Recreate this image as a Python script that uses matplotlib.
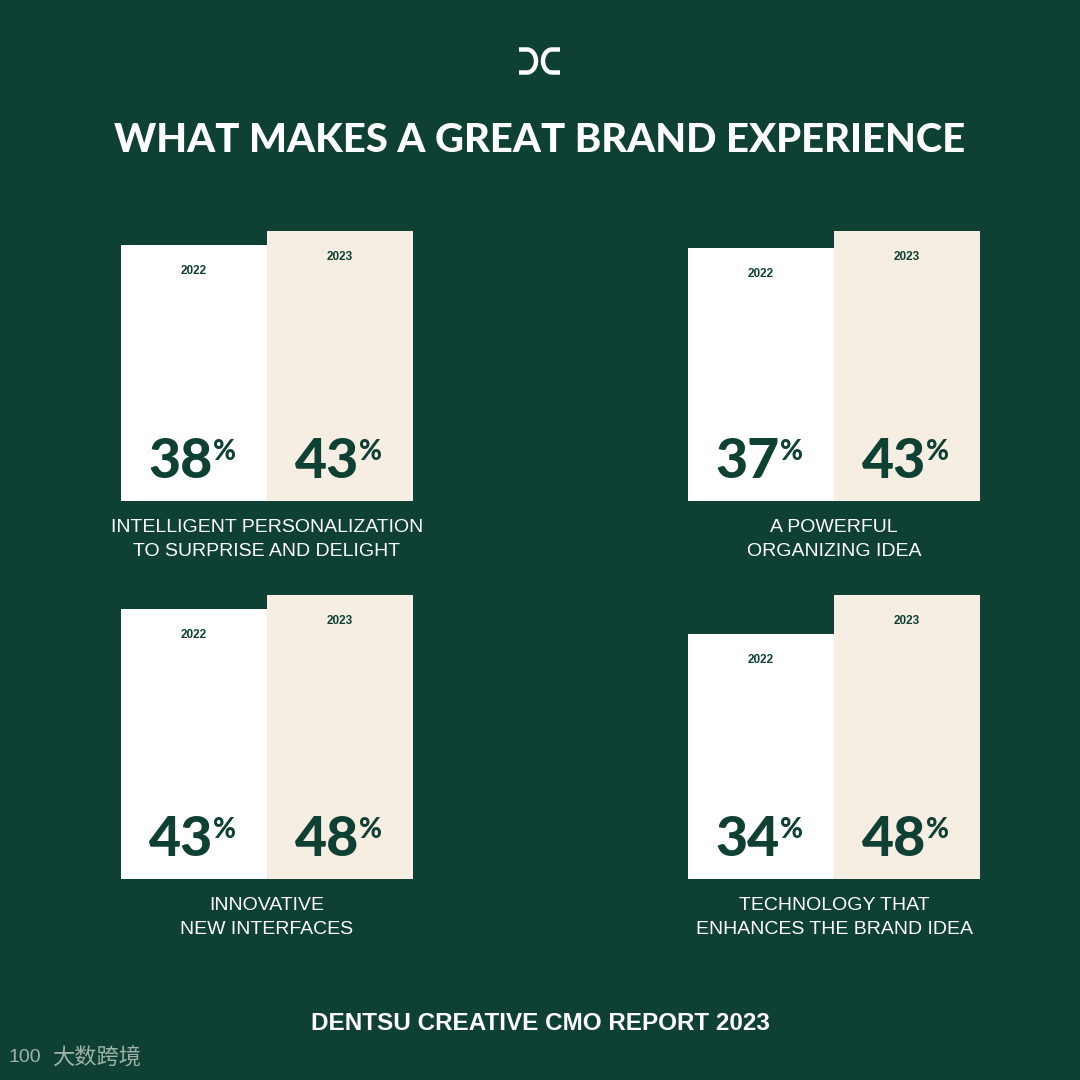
import numpy as np
import matplotlib.pyplot as plt
from matplotlib.lines import Line2D

# data
years = ['2022', '2023']
categories = ['INTELLIGENT PERSONALIZATION\nTO SURPRISE AND DELIGHT',
              'A POWERFUL\nORGANIZING IDEA',
              'INNOVATIVE\nNEW INTERFACES',
              'TECHNOLOGY THAT\nENHANCES THE BRAND IDEA']
share_2022 = [38, 37, 43, 34]
share_2023 = [43, 43, 48, 48]

BG = '#0f4034'
CREAM = '#f6eee2'
W = 1080.0

plt.rcParams['font.family'] = ['Lato', 'DejaVu Sans']
ARIAL = ['Liberation Sans', 'DejaVu Sans']

fig = plt.figure(figsize=(10.8, 10.8), dpi=100, facecolor=BG)

def fx(x):
    return x / W

def fy(y):
    return 1 - y / W

# panel anchors in pixels (left, bottom)
anchors = [(121, 501), (688, 501), (121, 879), (688, 879)]
base = -53.4       # value at the bar bottom
px_per_unit = 2.8
ax_h = 300

for k, (L, B) in enumerate(anchors):
    ax = fig.add_axes([fx(L), fy(B), 292 / W, ax_h / W])
    ax.set_facecolor('none')
    ax.set_xlim(-0.5, 1.5)
    ax.set_ylim(base, base + ax_h / px_per_unit)
    ax.axis('off')
    vals = [share_2022[k], share_2023[k]]
    ax.bar([0, 1], [v - base for v in vals], bottom=base, width=1.0,
           color=['white', CREAM], linewidth=0)
    for i, v in enumerate(vals):
        ax.annotate(years[i], xy=(i, v), xytext=(0, -26), textcoords='offset pixels',
                    ha='center', va='center', fontsize=8.5, fontweight='bold', color=BG,
                    family=ARIAL)
        ax.annotate(str(v), xy=(i, base), xytext=(19, 23), textcoords='offset pixels',
                    ha='right', va='baseline', fontsize=40, fontweight='black', color=BG)
        ax.annotate('%', xy=(i, base), xytext=(19, 62), textcoords='offset pixels',
                    ha='left', va='top', fontsize=20, fontweight='black', color=BG)
    ax.annotate(categories[k], xy=(0.5, base), xytext=(0, -18), textcoords='offset pixels',
                ha='center', va='top', fontsize=14, color='white', linespacing=1.55,
                family=ARIAL, annotation_clip=False)

# title and footer
fig.text(0.5, fy(140), 'WHAT MAKES A GREAT BRAND EXPERIENCE', ha='center', va='center',
         fontsize=28.8, fontweight='black', color='white')
fig.text(0.5, fy(1024), 'DENTSU CREATIVE CMO REPORT 2023', ha='center', va='center',
         fontsize=17.5, fontweight='bold', color='white', family=ARIAL)

# logo: two facing brackets
t = np.linspace(np.pi / 2, -np.pi / 2, 40)
lx = np.concatenate([[519], 527 + 9 * np.cos(t), [519]])
ly = np.concatenate([[49.5], 61 - 11.5 * np.sin(t), [72.5]])
fig.add_artist(Line2D(fx(lx), fy(ly), color='white', lw=3.2, solid_capstyle='butt'))
fig.add_artist(Line2D(fx(1079 - lx), fy(ly), color='white', lw=3.2, solid_capstyle='butt'))

# watermark
fig.text(fx(9), fy(1058), '100', ha='left', va='center', fontsize=14,
         color='#9fb2aa', family=ARIAL)
fig.text(fx(52), fy(1058), '大数跨境', ha='left', va='center', fontsize=16,
         color='#9fb2aa', family=['Noto Sans CJK SC', 'DejaVu Sans'])

fig.savefig('out.png', dpi=100, facecolor=BG)
